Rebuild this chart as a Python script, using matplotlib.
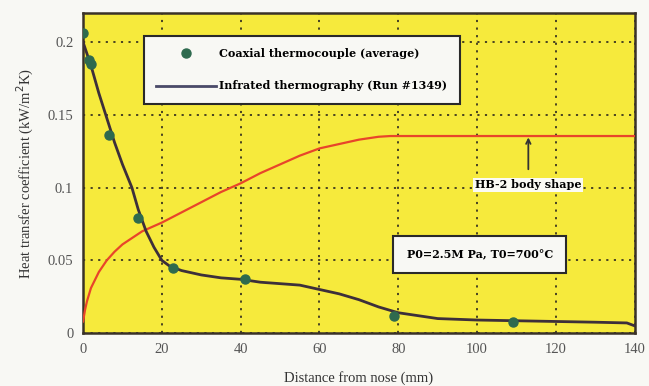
import matplotlib.pyplot as plt

# coaxial thermocouple points
tc_x = [0, 1.5, 2.0, 6.6, 14, 22.9, 41, 79, 109]
tc_y = [0.206, 0.188, 0.185, 0.136, 0.079, 0.045, 0.037, 0.0116, 0.0075]

# infrared thermography line
ir_x = [0, 1, 2, 4, 6, 8, 10, 12.4, 14, 16, 18, 20, 22, 25, 30, 35, 40, 45, 50, 55, 60,
        65, 70, 75, 80, 85, 90, 100, 110, 120, 130, 138, 140]
ir_y = [0.200, 0.192, 0.184, 0.165, 0.148, 0.131, 0.116, 0.100, 0.085, 0.070, 0.059, 0.050,
        0.046, 0.043, 0.040, 0.038, 0.037, 0.035, 0.034, 0.033, 0.030, 0.027, 0.023,
        0.018, 0.014, 0.012, 0.010, 0.009, 0.0085, 0.008, 0.0075, 0.007, 0.005]

# HB-2 body shape
body_x = [0, 0.5, 1, 2, 4, 6, 8, 10, 15, 20, 25, 30, 35, 40, 45, 50, 55, 60, 65, 70, 75, 78, 140]
body_y = [0.008, 0.016, 0.022, 0.031, 0.042, 0.050, 0.056, 0.061, 0.070, 0.076, 0.083,
          0.090, 0.097, 0.103, 0.110, 0.116, 0.122, 0.127, 0.130, 0.133, 0.135, 0.1355, 0.1355]

xticks = [0, 20, 40, 60, 80, 100, 120, 140]
yticks = [0, 0.05, 0.1, 0.15, 0.2]
ytick_labels = ['0', '0.05', '0.1', '0.15', '0.2']

plt.rcParams['font.family'] = ['Liberation Serif', 'DejaVu Serif']
box_font = {'family': 'DejaVu Serif', 'weight': 'bold', 'size': 8}

fig = plt.figure(figsize=(6.49, 3.86), dpi=100)
fig.patch.set_facecolor('#f8f8f4')
ax = fig.add_axes([0.128, 0.137, 0.850, 0.829])
ax.set_facecolor('#f6ea3c')

ax.plot(body_x, body_y, color='#e8452a', lw=1.6, zorder=3)
line, = ax.plot(ir_x, ir_y, color='#3d2f3a', lw=2.0, zorder=4,
                label='Infrated thermography (Run #1349)')
dots, = ax.plot(tc_x, tc_y, 'o', color='#2e6a4e', ms=6.5, zorder=5,
                label='Coaxial thermocouple (average)')

ax.set_xlim(0, 140)
ax.set_ylim(0, 0.22)
ax.set_xticks(xticks)
ax.set_yticks(yticks)
ax.set_yticklabels(ytick_labels)
ax.tick_params(length=0, labelsize=10.5, labelcolor='#555555', pad=7)
ax.grid(True, color='#3a3520', linestyle=(0, (1.2, 3)), lw=1.3)
for s in ax.spines.values():
    s.set_linewidth(1.8)
    s.set_color('#3a3228')

ax.set_xlabel('Distance from nose (mm)', fontsize=10.5, color='#333333', labelpad=11)
ax.set_ylabel('Heat transfer coefficient (kW/m$^2$K)', fontsize=10.5, color='#333333', labelpad=8)

leg = ax.legend(handles=[dots, line], loc='upper left', bbox_to_anchor=(0.11, 0.928),
                frameon=True, fancybox=False, edgecolor='#2a2a2a', facecolor='#f8f8f4',
                framealpha=1, prop=box_font, handlelength=5.4, handletextpad=0.3,
                borderpad=1.1, labelspacing=1.9, borderaxespad=0)
leg.get_frame().set_linewidth(1.5)
leg.legend_handles[1].set_color('#4a4a68')

ax.annotate('HB-2 body shape', xy=(113, 0.1355), xytext=(113, 0.102),
            ha='center', va='center', **box_font,
            bbox=dict(boxstyle='square,pad=0.15', fc='#fbfbf4', ec='none'),
            arrowprops=dict(arrowstyle='->', color='#333333', lw=1.3,
                            shrinkA=6, shrinkB=1), zorder=6)

ax.text(100.7, 0.054, 'P0=2.5M Pa, T0=700°C', ha='center', va='center',
        fontdict=box_font, zorder=6,
        bbox=dict(boxstyle='square,pad=1.2', fc='#f8f8f4', ec='#2a2a2a', lw=1.5))

fig.savefig('out.png', dpi=100, facecolor=fig.get_facecolor())
